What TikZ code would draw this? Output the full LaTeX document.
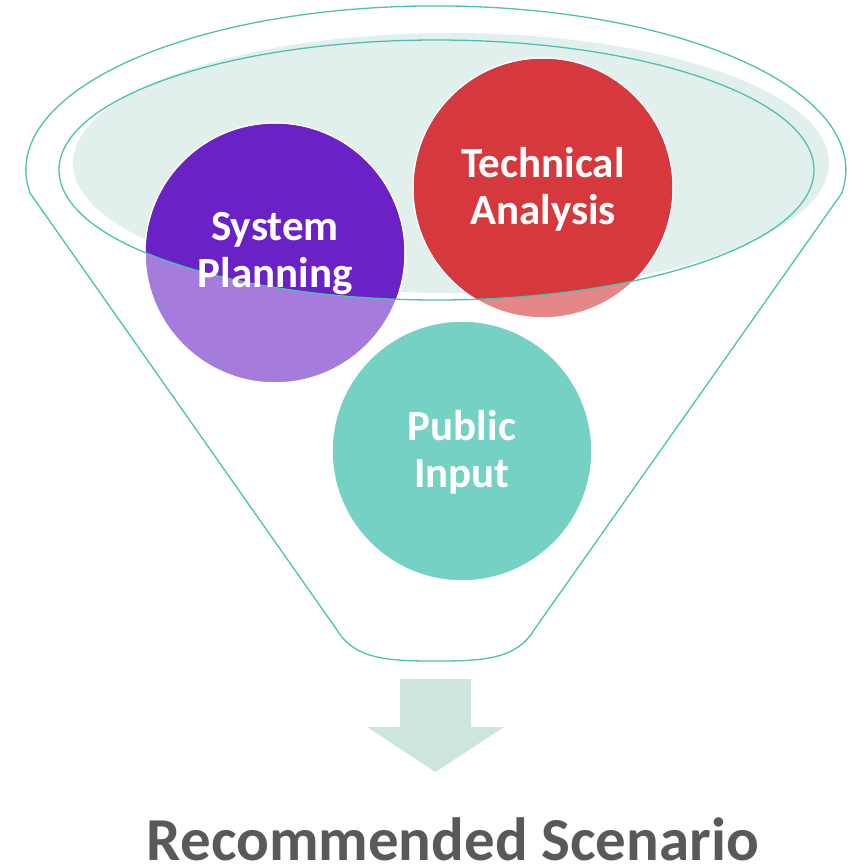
\documentclass[tikz,border=0pt]{standalone}
\usepackage{fontspec}
\setmainfont{Carlito}
\definecolor{rim}{RGB}{76,194,174}
\definecolor{bowl}{RGB}{226,240,237}
\definecolor{purpD}{RGB}{106,34,198}
\definecolor{purpL}{RGB}{165,124,219}
\definecolor{redD}{RGB}{213,57,62}
\definecolor{redL}{RGB}{229,134,137}
\definecolor{tealC}{RGB}{118,209,197}
\definecolor{arrowC}{RGB}{205,229,223}
\definecolor{capt}{RGB}{89,89,89}
\begin{document}
\begin{tikzpicture}[x=1pt,y=-1pt,
  rimline/.style={draw=rim, line width=1.3pt},
  ball/.style={circle, minimum size=260pt, inner sep=0pt, draw=white, line width=1.5pt},
  balltext/.style={text=white, font=\fontsize{43}{47}\selectfont\bfseries, align=center},
  capstyle/.style={text=capt, font=\fontsize{61}{61}\selectfont\bfseries, anchor=base, inner sep=0pt}
]
\useasboundingbox (0,0) rectangle (854,868);
% funnel outline
\draw[rimline] (841.9,193) -- (534,630)
  .. controls (516,660) and (481,661) .. (435.5,661)
  .. controls (390,661) and (355,660) .. (337,630)
  -- (30,193) arc[start angle=171.9, end angle=368.1, x radius=410, y radius=164] -- cycle;
% bowl fill
\fill[bowl] (451,163) ellipse [x radius=378, y radius=130];
% circles (light parts)
\node[ball, fill=purpL] (sp) at (275,253) {};
\node[ball, fill=redL] (ta) at (543,188) {};
\node[ball, fill=tealC] (pi) at (462,451) {};
% dark parts inside the bowl
\begin{scope}
  \clip (436.5,170) ellipse [x radius=377.5, y radius=130];
  \fill[purpD] (sp.center) circle [radius=129.2];
  \fill[redD] (ta.center) circle [radius=129.2];
\end{scope}
% bowl outline
\draw[rimline] (436.5,170) ellipse [x radius=377.5, y radius=130];
% labels
\node[balltext] (spt) at ([yshift=-1pt]sp.center) {System\\Planning};
\node[balltext] (tat) at ([yshift=-1pt]ta.center) {Technical\\Analysis};
\node[balltext] (pit) at ([yshift=-1pt]pi.center) {Public\\Input};
% arrow
\fill[arrowC] (400,679) -- (471,679) -- (471,727) -- (504,727) -- (435.5,772) -- (367,727) -- (400,727) -- cycle;
% caption
\node[capstyle] (rs) at (453,860) {Recommended Scenario};
\end{tikzpicture}
\end{document}
